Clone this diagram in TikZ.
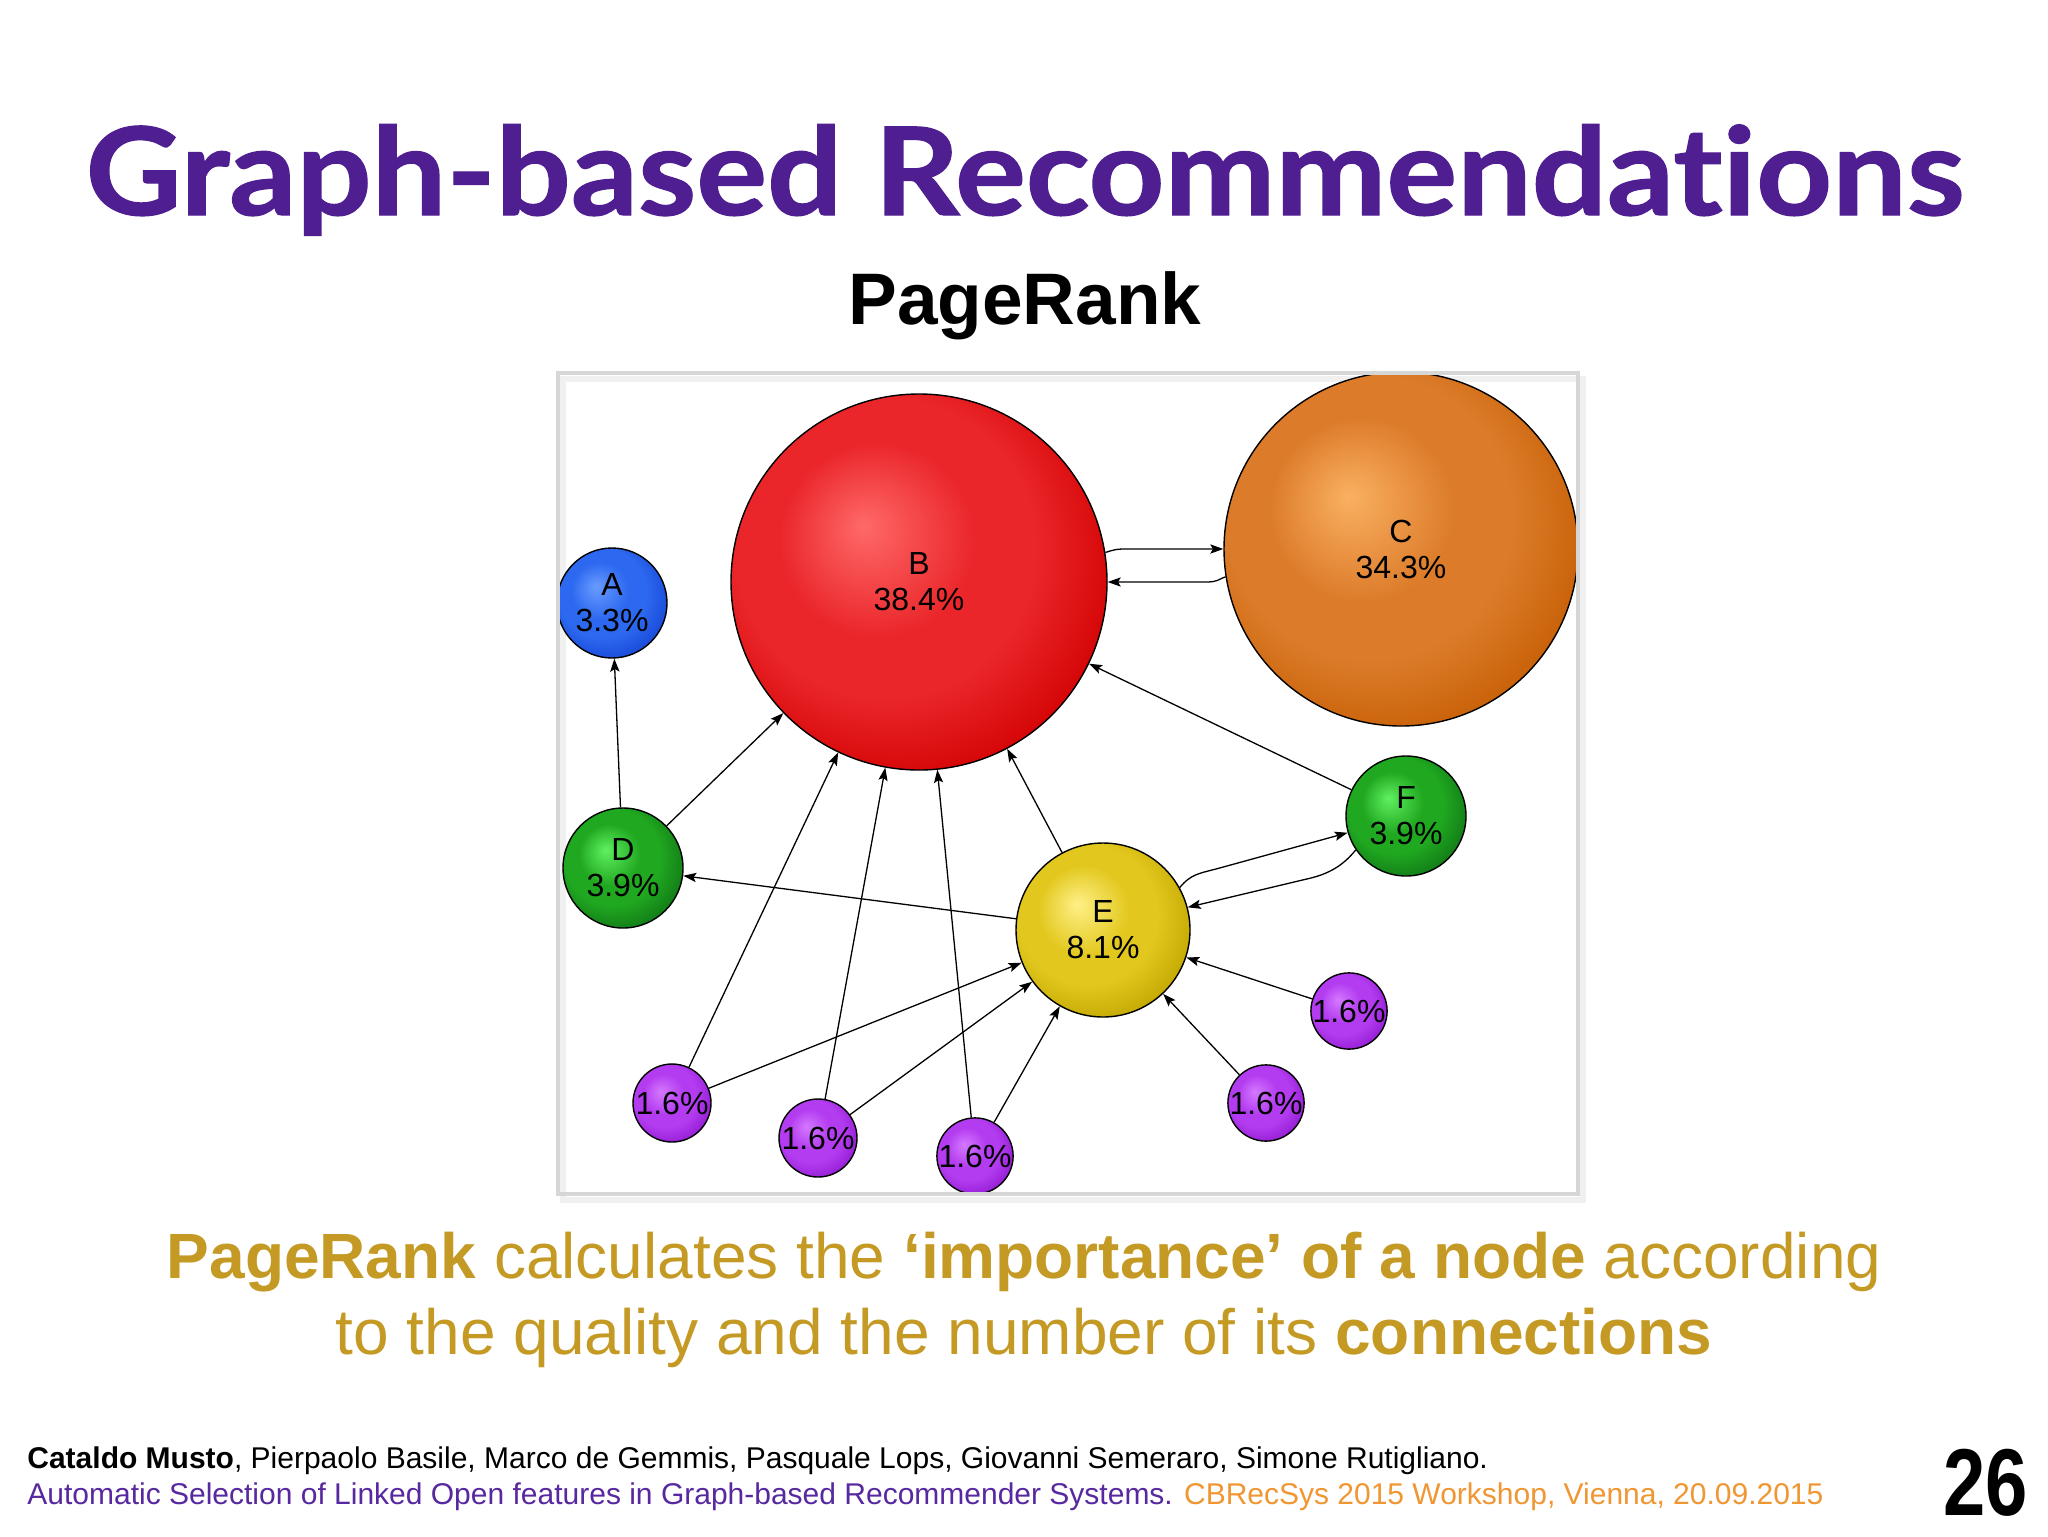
\documentclass[tikz,border=0pt]{standalone}
\usepackage{graphicx}
\usepackage{fontspec}
\setmainfont{Liberation Sans}
\newfontfamily\titlefont{Lato}[Ligatures=NoCommon, BoldFeatures={FakeBold=1}]
\usetikzlibrary{arrows.meta,calc}

\definecolor{titlepurple}{RGB}{79,31,145}
\definecolor{capgold}{RGB}{196,154,36}
\definecolor{footpurple}{RGB}{88,40,160}
\definecolor{footorange}{RGB}{240,150,50}

\definecolor{redhi}{RGB}{255,105,105}\definecolor{redmid}{RGB}{234,38,42}\definecolor{redlo}{RGB}{210,0,0}
\definecolor{orahi}{RGB}{250,176,98}\definecolor{oramid}{RGB}{220,124,42}\definecolor{oralo}{RGB}{198,94,4}
\definecolor{bluhi}{RGB}{105,155,255}\definecolor{blumid}{RGB}{45,105,240}\definecolor{blulo}{RGB}{22,70,214}
\definecolor{grehi}{RGB}{95,240,95}\definecolor{gremid}{RGB}{32,168,32}\definecolor{grelo}{RGB}{16,118,22}
\definecolor{yelhi}{RGB}{255,240,135}\definecolor{yelmid}{RGB}{226,200,30}\definecolor{yello}{RGB}{192,165,0}
\definecolor{purhi}{RGB}{212,120,255}\definecolor{purmid}{RGB}{180,60,240}\definecolor{purlo}{RGB}{145,26,210}

\pgfdeclareradialshading{ballred}{\pgfpoint{-7.5bp}{7.5bp}}{color(0bp)=(redhi); color(13bp)=(redmid); color(20bp)=(redmid); color(31bp)=(redlo); color(50bp)=(redlo)}
\pgfdeclareradialshading{ballorange}{\pgfpoint{-7.5bp}{7.5bp}}{color(0bp)=(orahi); color(13bp)=(oramid); color(20bp)=(oramid); color(31bp)=(oralo); color(50bp)=(oralo)}
\pgfdeclareradialshading{ballblue}{\pgfpoint{-7.5bp}{7.5bp}}{color(0bp)=(bluhi); color(13bp)=(blumid); color(20bp)=(blumid); color(31bp)=(blulo); color(50bp)=(blulo)}
\pgfdeclareradialshading{ballgreen}{\pgfpoint{-7.5bp}{7.5bp}}{color(0bp)=(grehi); color(13bp)=(gremid); color(20bp)=(gremid); color(31bp)=(grelo); color(50bp)=(grelo)}
\pgfdeclareradialshading{ballyellow}{\pgfpoint{-7.5bp}{7.5bp}}{color(0bp)=(yelhi); color(13bp)=(yelmid); color(20bp)=(yelmid); color(31bp)=(yello); color(50bp)=(yello)}
\pgfdeclareradialshading{ballpurple}{\pgfpoint{-7.5bp}{7.5bp}}{color(0bp)=(purhi); color(13bp)=(purmid); color(20bp)=(purmid); color(31bp)=(purlo); color(50bp)=(purlo)}

\tikzset{
  ball/.style={circle, draw=black, line width=0.7pt, inner sep=0pt, align=center,
    font=\fontsize{16}{18}\selectfont},
  edge/.style={-{Stealth[length=6.5pt,width=4.6pt,inset=1.3pt]}, line width=0.65pt, black},
}

\begin{document}
\begin{tikzpicture}[x=0.5pt,y=-0.5pt]
\useasboundingbox (0,0) rectangle (2048,1536);
\fill[white] (0,0) rectangle (2048,1536);

% titles
\node[anchor=base, text=titlepurple, font=\titlefont\bfseries\fontsize{61}{70}\selectfont, inner sep=0pt] (title) at (1025,215) {\scalebox{1.085}[1]{Graph-based Recommendations}};
\node[anchor=base, font=\bfseries\fontsize{36.5}{40}\selectfont, inner sep=0pt] (sub) at (1025,324) {PageRank};

% frame shadow
\draw[line width=3pt, black!6] (563,379) rectangle (1583,1200);

% nodes
\node[ball, shading=ballred, minimum size=188pt] (B) at (919,582) {B\\38.4\%};
\node[ball, shading=ballorange, minimum size=177pt] (C) at (1401,549) {C\\34.3\%};
\node[ball, shading=ballblue, minimum size=55pt] (A) at (612,603) {A\\3.3\%};
\node[ball, shading=ballgreen, minimum size=60pt] (D) at (623,868) {D\\3.9\%};
\node[ball, shading=ballgreen, minimum size=60pt] (F) at (1406,816) {F\\3.9\%};
\node[ball, shading=ballyellow, minimum size=87pt] (E) at (1103,930) {E\\8.1\%};
\node[ball, shading=ballpurple, minimum size=39pt] (p1) at (672,1103) {1.6\%};
\node[ball, shading=ballpurple, minimum size=39pt] (p2) at (818,1138) {1.6\%};
\node[ball, shading=ballpurple, minimum size=38pt] (p3) at (975,1156) {1.6\%};
\node[ball, shading=ballpurple, minimum size=38pt] (p4) at (1266,1103) {1.6\%};
\node[ball, shading=ballpurple, minimum size=38pt] (p5) at (1349,1011) {1.6\%};

% edges
\draw[edge] (D) -- (A);
\draw[edge] (D) -- (B);
\draw[edge] (E) -- (D);
\draw[edge] (E) -- (B);
\draw[edge] (F) -- (B);
\draw[edge] (p1) -- (B);
\draw[edge] (p1) -- (E);
\draw[edge] (p2) -- (B);
\draw[edge] (p2) -- (E);
\draw[edge] (p3) -- (B);
\draw[edge] (p3) -- (E);
\draw[edge] (p4) -- (E);
\draw[edge] (p5) -- (E);
\draw[edge] (B.9) .. controls +(12,-4) and +(-14,0) .. ($(C.180)+(-90,0)$) -- (C.180);
\draw[edge] (C.189) .. controls +(-8,3) and +(12,0) .. ($(B.0)+(98,0)$) -- (B.0);
\draw[edge] (E.29) .. controls +(12,-14) and +(-22,6) .. ($(F.196)+(-127,35)$) -- (F.196);
\draw[edge] (F.214) .. controls +(-12,15) and +(20,-4.8) .. ($(E.15)+(122,-29)$) -- (E.15);

% frame
\draw[line width=2.4pt, black!16] (558,373) rectangle (1578,1194);

% caption
\node[anchor=base, text=capgold, font=\fontsize{32}{38}\selectfont, inner sep=0pt] (cap1) at (1024,1278) {\textbf{PageRank} calculates the \textbf{‘importance’ of a node} according};
\node[anchor=base, text=capgold, font=\fontsize{32}{38}\selectfont, inner sep=0pt] (cap2) at (1024,1354) {to the quality and the number of its \textbf{connections}};

% footer
\node[anchor=base west, font=\fontsize{15}{17}\selectfont, inner sep=0pt] (foot1) at (27,1468) {\textbf{Cataldo Musto}, Pierpaolo Basile, Marco de Gemmis, Pasquale Lops, Giovanni Semeraro, Simone Rutigliano.};
\node[anchor=base west, font=\fontsize{15}{17}\selectfont, inner sep=0pt, text=footpurple] (foot2) at (27,1504) {Automatic Selection of Linked Open features in Graph-based Recommender Systems. \textcolor{footorange}{CBRecSys 2015 Workshop, Vienna, 20.09.2015}};
\node[anchor=base east, font=\bfseries\fontsize{47.5}{50}\selectfont, inner sep=0pt] (pg) at (2028,1515) {\scalebox{0.8}[1]{26}};
\end{tikzpicture}
\end{document}
